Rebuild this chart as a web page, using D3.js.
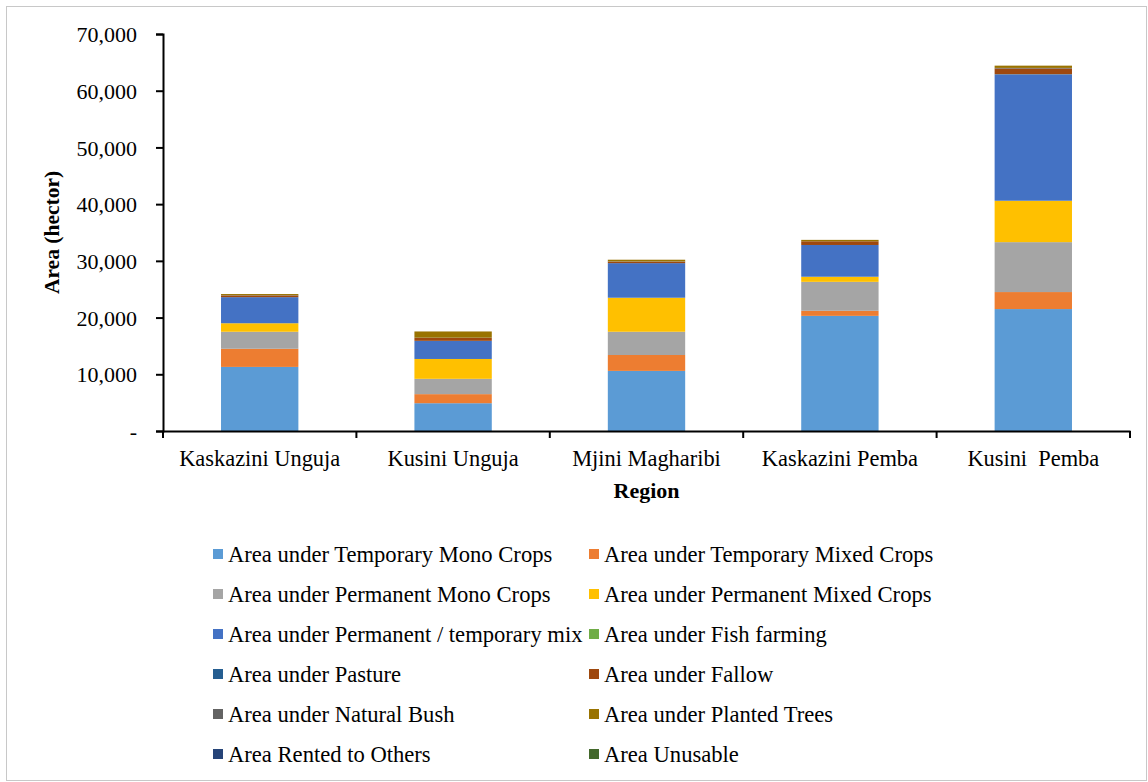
<!DOCTYPE html>
<html>
<head>
<meta charset="utf-8">
<script src="https://cdn.jsdelivr.net/npm/d3@7"></script>
<style>
    body { margin: 0; background: #fff; }
    text { font-family: "Liberation Serif", "Times New Roman", serif; fill: #000; white-space: pre; }
</style>
</head>
<body>
<div id="chart"></div>
<script>
    const regions = ["Kaskazini Unguja", "Kusini Unguja", "Mjini Magharibi", "Kaskazini Pemba", "Kusini  Pemba"];

    const seriesNames = [
        "Area under Temporary Mono Crops", "Area under Temporary Mixed Crops",
        "Area under Permanent Mono Crops", "Area under Permanent Mixed Crops",
        "Area under Permanent / temporary mix", "Area under Fish farming",
        "Area under Pasture", "Area under Fallow",
        "Area under Natural Bush", "Area under Planted Trees",
        "Area Rented to Others", "Area Unusable"
    ];

    const colors = ["#5B9BD5", "#ED7D31", "#A5A5A5", "#FFC000", "#4472C4", "#70AD47",
        "#255E91", "#9E480E", "#636363", "#997300", "#264478", "#43682B"];

    // one array per series, values per region (hectares)
    const tempMono    = [11300, 4900, 10600, 20300, 21500];
    const tempMixed   = [3200, 1600, 2800, 900, 3000];
    const permMono    = [3000, 2700, 4100, 5100, 8800];
    const permMixed   = [1500, 3500, 6000, 900, 7300];
    const permTempMix = [4600, 3200, 6100, 5600, 22300];
    const fishFarming = [0, 0, 0, 0, 20];
    const pasture     = [0, 0, 0, 0, 0];
    const fallow      = [300, 500, 250, 650, 1000];
    const naturalBush = [50, 50, 50, 0, 100];
    const plantedTrees = [200, 1100, 300, 250, 400];
    const rented      = [0, 0, 0, 0, 0];
    const unusable    = [0, 0, 0, 0, 0];

    const yTicks = [0, 10000, 20000, 30000, 40000, 50000, 60000, 70000];

    const seriesValues = [tempMono, tempMixed, permMono, permMixed, permTempMix, fishFarming,
        pasture, fallow, naturalBush, plantedTrees, rented, unusable];

    const rows = regions.map((r, i) => {
        const o = { region: r };
        seriesNames.forEach((s, k) => o[s] = seriesValues[k][i]);
        return o;
    });

    const W = 1148, H = 782;
    const margin = { top: 34, right: 18, bottom: 351, left: 163 };
    const width = W - margin.left - margin.right;
    const height = H - margin.top - margin.bottom;

    const svg = d3.select("#chart").append("svg")
        .attr("width", W).attr("height", H);

    svg.append("rect")
        .attr("x", 6.5).attr("y", 6.5)
        .attr("width", W - 8).attr("height", H - 8)
        .attr("fill", "none").attr("stroke", "#c8c8c8");

    const g = svg.append("g").attr("transform", `translate(${margin.left},${margin.top})`);

    const x = d3.scaleBand().domain(regions).range([0, width])
        .paddingInner(0.6).paddingOuter(0.3);
    const y = d3.scaleLinear().domain([0, 70000]).range([height, 0]);

    const stack = d3.stack().keys(seriesNames)(rows);

    g.selectAll(".series")
        .data(stack)
        .enter().append("g")
        .attr("fill", (d, i) => colors[i])
        .selectAll("rect")
        .data(d => d)
        .enter().append("rect")
        .attr("x", d => x(d.data.region))
        .attr("y", d => y(d[1]))
        .attr("width", x.bandwidth())
        .attr("height", d => y(d[0]) - y(d[1]));

    // y axis
    const yAxis = g.append("g")
        .call(d3.axisLeft(y).tickValues(yTicks).tickSize(7).tickPadding(19)
            .tickFormat(d => d === 0 ? "-" : d3.format(",")(d)));
    yAxis.select(".domain").attr("stroke", "#000").attr("stroke-width", 2);
    yAxis.selectAll(".tick line").attr("stroke", "#000").attr("stroke-width", 2);
    yAxis.selectAll("text").style("font-size", "22px").attr("dy", "0.35em");

    // x axis
    const xAxis = g.append("g")
        .attr("transform", `translate(0,${height})`)
        .call(d3.axisBottom(x).tickSize(0).tickPadding(19));
    xAxis.select(".domain").attr("stroke", "#000").attr("stroke-width", 2);
    xAxis.selectAll("text").style("font-size", "22.4px");

    // tick marks between the categories
    const step = x.step();
    xAxis.selectAll(".bound")
        .data([0].concat(regions.map(r => Math.min(x(r) + x.bandwidth() + step * x.paddingInner() / 2, width))))
        .enter().append("line")
        .attr("x1", d => d).attr("x2", d => d)
        .attr("y1", 0).attr("y2", 7)
        .attr("stroke", "#000").attr("stroke-width", 2);

    // axis titles
    svg.append("text")
        .attr("transform", `translate(59,${margin.top + height / 2}) rotate(-90)`)
        .attr("text-anchor", "middle")
        .style("font-size", "21.5px").style("font-weight", "bold")
        .text("Area (hector)");

    svg.append("text")
        .attr("x", margin.left + width / 2).attr("y", 498)
        .attr("text-anchor", "middle")
        .style("font-size", "22px").style("font-weight", "bold")
        .text("Region");

    // legend
    const legend = svg.append("g");
    const item = legend.selectAll(".item")
        .data(seriesNames)
        .enter().append("g")
        .attr("transform", (d, i) => `translate(${i % 2 === 0 ? 213 : 589},${554 + Math.floor(i / 2) * 40})`);
    item.append("rect")
        .attr("x", 0).attr("y", -5).attr("width", 10).attr("height", 10)
        .attr("fill", (d, i) => colors[i]);
    item.append("text")
        .attr("x", 15).attr("dy", "0.35em")
        .style("font-size", "22.6px")
        .text(d => d);
</script>
</body>
</html>
